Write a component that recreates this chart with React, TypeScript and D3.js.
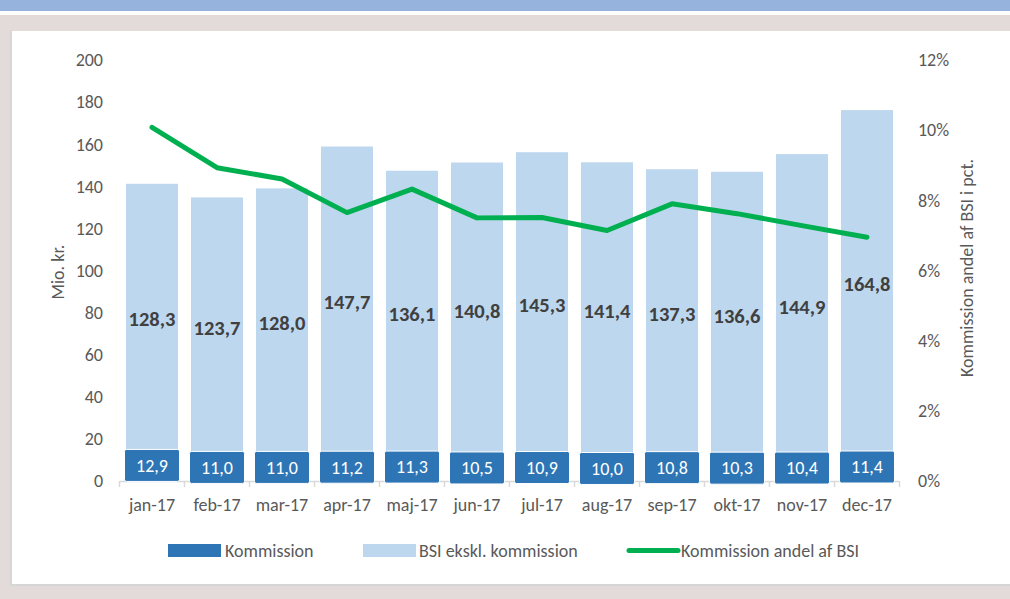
import React, { useEffect } from 'react'
import * as d3 from 'd3'

const months = ['jan-17', 'feb-17', 'mar-17', 'apr-17', 'maj-17', 'jun-17', 'jul-17', 'aug-17', 'sep-17', 'okt-17', 'nov-17', 'dec-17']
const kommission = [12.9, 11.0, 11.0, 11.2, 11.3, 10.5, 10.9, 10.0, 10.8, 10.3, 10.4, 11.4]
const bsiEkskl = [128.3, 123.7, 128.0, 147.7, 136.1, 140.8, 145.3, 141.4, 137.3, 136.6, 144.9, 164.8]
const andelPct = [10.08, 8.93, 8.61, 7.65, 8.32, 7.5, 7.51, 7.14, 7.9, 7.62, 7.28, 6.95]
const leftTicks = [0, 20, 40, 60, 80, 100, 120, 140, 160, 180, 200]
const rightTicks = [0, 2, 4, 6, 8, 10, 12]

const fmt = (v: number) => v.toFixed(1).replace('.', ',')

const FONT = 'Carlito, Calibri, Lato, sans-serif'
const GRAY = '#595959'
const DARK = '#2e75b6'
const LIGHT = '#bdd7ee'
const GREEN = '#00b050'

export default function App() {
  useEffect(() => {
    document.body.style.margin = '0'
  }, [])

  const x = d3.scaleBand().domain(months).range([119.5, 899.5]).paddingInner(0.2).paddingOuter(0.1)
  const yL = d3.scaleLinear().domain([0, 200]).range([481, 60])
  const yR = d3.scaleLinear().domain([0, 12]).range([481, 60])
  const cx = (m: string) => (x(m) ?? 0) + x.bandwidth() / 2

  const line = d3.line<number>()
    .x((_, i) => cx(months[i]))
    .y(d => yR(d))

  const step = x.step()
  const boundaries = months.map(m => (x(m) ?? 0) - (step - x.bandwidth()) / 2).concat([899.5])

  return (
    <svg width={1010} height={599} style={{ display: 'block', fontFamily: FONT }}>
      {/* frame */}
      <rect x={0} y={0} width={1010} height={11} fill="#95b3dd" />
      <rect x={0} y={15} width={1010} height={584} fill="#e3dbda" />
      <rect x={10} y={31} width={1000} height={555} fill="#d6d6d6" />
      <rect x={12} y={31} width={998} height={553} fill="#ffffff" />

      {/* light bars */}
      {months.map((m, i) => (
        <rect key={'l' + m} x={x(m)} width={x.bandwidth()}
          y={yL(kommission[i] + bsiEkskl[i])}
          height={yL(kommission[i]) - yL(kommission[i] + bsiEkskl[i])}
          fill={LIGHT} />
      ))}
      {months.map((m, i) => (
        <rect key={'d' + m} x={x(m)} width={x.bandwidth()}
          y={yL(kommission[i])} height={yL(0) - yL(kommission[i])} fill={DARK} />
      ))}

      {/* x axis */}
      <line x1={119.5} x2={899.5} y1={481.5} y2={481.5} stroke="#d9d9d9" strokeWidth={1.5} />
      {boundaries.map((b, i) => (
        <line key={'t' + i} x1={b} x2={b} y1={481} y2={487} stroke="#d9d9d9" strokeWidth={1.5} />
      ))}

      {/* kommission label boxes */}
      {months.map((m, i) => {
        const cy = yL(kommission[i] / 2) - 2
        return (
          <g key={'k' + m}>
            <rect x={cx(m) - 27.5} y={cy - 16} width={55} height={32} rx={2}
              fill={DARK} stroke="#ffffff" strokeWidth={1} />
            <text x={cx(m)} y={cy} dy="0.35em" textAnchor="middle" fill="#ffffff" fontSize={18}>
              {fmt(kommission[i])}
            </text>
          </g>
        )
      })}

      {/* bsi labels */}
      {months.map((m, i) => (
        <text key={'b' + m} x={cx(m)} y={yL(kommission[i] + bsiEkskl[i] / 2)} dy="0.35em"
          textAnchor="middle" fill="#404040" fontSize={20.5} fontWeight="bold">
          {fmt(bsiEkskl[i])}
        </text>
      ))}

      {/* line */}
      <path d={line(andelPct) ?? ''} fill="none" stroke={GREEN} strokeWidth={5}
        strokeLinecap="round" strokeLinejoin="round" />

      {/* axes labels */}
      {leftTicks.map(t => (
        <text key={'yl' + t} x={103} y={yL(t)} dy="0.35em" textAnchor="end" fill={GRAY} fontSize={18}>{t}</text>
      ))}
      {rightTicks.map(t => (
        <text key={'yr' + t} x={918} y={yR(t)} dy="0.35em" textAnchor="start" fill={GRAY} fontSize={18}>{t}%</text>
      ))}
      {months.map(m => (
        <text key={'xl' + m} x={cx(m)} y={505} dy="0.35em" textAnchor="middle" fill={GRAY} fontSize={18}>{m}</text>
      ))}
      <text transform="translate(58,272) rotate(-90)" textAnchor="middle" dy="0.35em" fill={GRAY} fontSize={18}>Mio. kr.</text>
      <text transform="translate(967,268) rotate(-90)" textAnchor="middle" dy="0.35em" fill={GRAY} fontSize={18}>Kommission andel af BSI i pct.</text>

      {/* legend */}
      <rect x={168} y={544} width={53} height={13} fill={DARK} />
      <text x={225} y={550.5} dy="0.35em" fill={GRAY} fontSize={18}>Kommission</text>
      <rect x={363} y={544} width={53} height={13} fill={LIGHT} />
      <text x={419} y={550.5} dy="0.35em" fill={GRAY} fontSize={18}>BSI ekskl. kommission</text>
      <line x1={629} x2={678} y1={550.5} y2={550.5} stroke={GREEN} strokeWidth={5} strokeLinecap="round" />
      <text x={681} y={550.5} dy="0.35em" fill={GRAY} fontSize={18}>Kommission andel af BSI</text>
    </svg>
  )
}
